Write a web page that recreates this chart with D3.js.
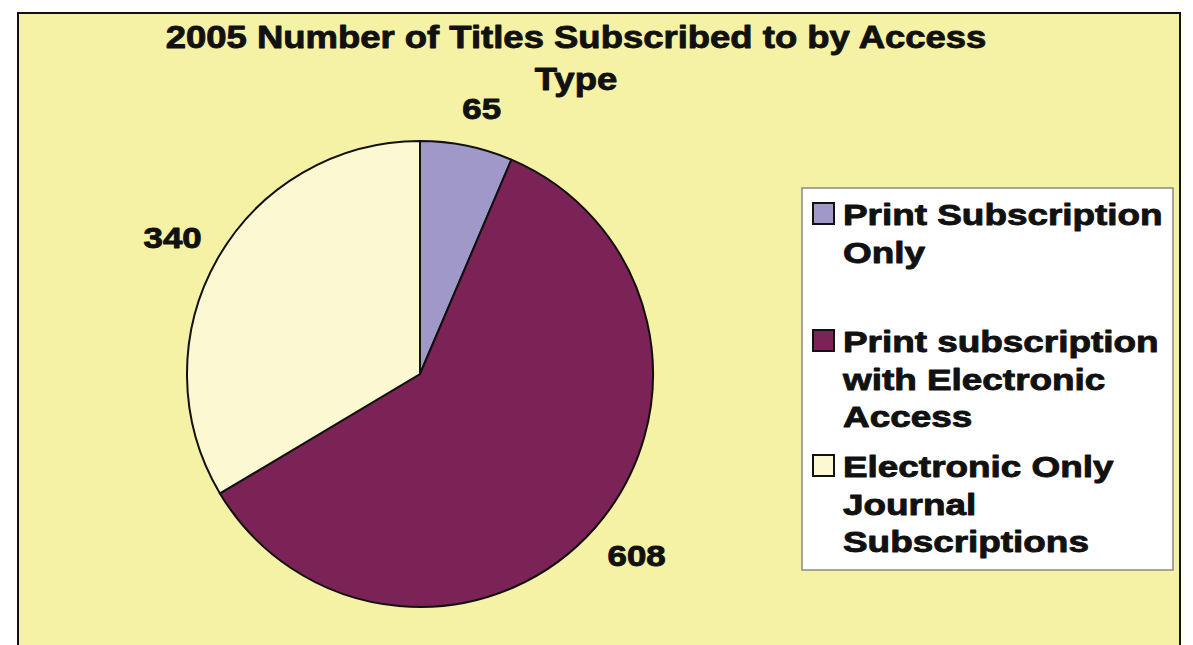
<!DOCTYPE html>
<html><head><meta charset="utf-8">
<script src="https://cdn.jsdelivr.net/npm/d3@7"></script>
<style>html,body{margin:0;padding:0;background:#fff;}svg{display:block;}</style>
</head><body>
<svg id="chart" width="1193" height="645"></svg>
<script>
const titleLines = ["2005 Number of Titles Subscribed to by Access", "Type"];
const categories = ["Print Subscription Only", "Print subscription with Electronic Access", "Electronic Only Journal Subscriptions"];
const legendLines = [["Print Subscription", "Only"], ["Print subscription", "with Electronic", "Access"], ["Electronic Only", "Journal", "Subscriptions"]];
const values = [65, 608, 340];
const colors = ["#9f98c8", "#7b2356", "#fcf8d2"];

const svg = d3.select("#chart");
const font = "'Liberation Sans', Arial, Helvetica, sans-serif";

// frame
svg.append("rect").attr("x", 18).attr("y", 13).attr("width", 1162).attr("height", 640)
  .attr("fill", "#f5f1a5").attr("stroke", "#111").attr("stroke-width", 2);

function stretchedText(g, x, y, txt, size, sx, anchor) {
  return g.append("text")
    .attr("transform", `translate(${x},${y}) scale(${sx},1)`)
    .attr("text-anchor", anchor || "middle")
    .attr("font-family", font).attr("font-weight", "bold")
    .attr("font-size", size).attr("fill", "#111")
    .attr("stroke", "#111").attr("stroke-width", 0.9).attr("stroke-linejoin", "round")
    .text(txt);
}

// title
const titleY = [48, 90];
titleLines.forEach((t, i) => stretchedText(svg, 576, titleY[i], t, 32, 1.14));

// pie
const cx = 420, cy = 374, r = 233;
const pie = d3.pie().sort(null).value(d => d)(values);
const arc = d3.arc().innerRadius(0).outerRadius(r);
const pg = svg.append("g").attr("transform", `translate(${cx},${cy})`);
pg.selectAll("path").data(pie).enter().append("path")
  .attr("d", arc).attr("fill", (d, i) => colors[i])
  .attr("stroke", "#111").attr("stroke-width", 2).attr("stroke-linejoin", "round");

// data labels, placed outside along the slice mid-angle
const labelArc = d3.arc().innerRadius(r + 40).outerRadius(r + 40);
const labelShift = [[7, 2], [11, 2], [-10, -1]];
pie.forEach((d, i) => {
  const [x, y] = labelArc.centroid(d);
  stretchedText(pg, x + labelShift[i][0], y + 10 + labelShift[i][1], String(values[i]), 29, 1.2);
});

// legend
const lg = svg.append("g");
lg.append("rect").attr("x", 802).attr("y", 188).attr("width", 371).attr("height", 382)
  .attr("fill", "#fff").attr("stroke", "#8a8a80").attr("stroke-width", 1.5);
const itemTop = [225, 352, 477];
const lineH = 37.5;
legendLines.forEach((lines, i) => {
  lg.append("rect").attr("x", 813).attr("y", itemTop[i] - 22).attr("width", 21).attr("height", 21)
    .attr("fill", colors[i]).attr("stroke", "#111").attr("stroke-width", 2);
  lines.forEach((ln, j) => stretchedText(lg, 843, itemTop[i] + j * lineH, ln, 30, 1.23, "start"));
});
</script>
</body></html>
